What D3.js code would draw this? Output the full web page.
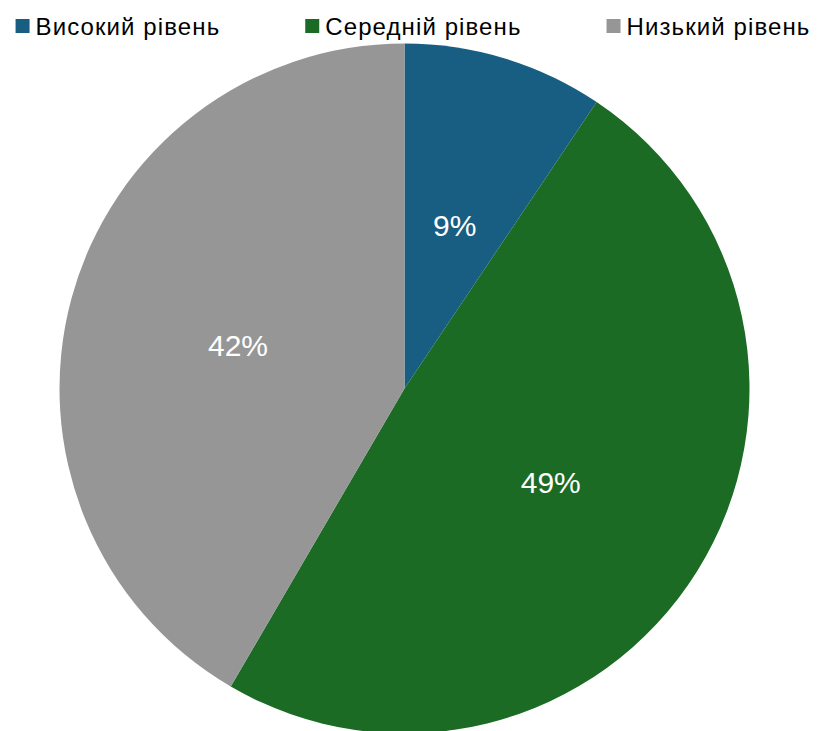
<!DOCTYPE html>
<html>
<head>
<meta charset="utf-8">
<script src="https://cdn.jsdelivr.net/npm/d3@7"></script>
<style>
  body { margin: 0; background: #fff; }
  svg { display: block; font-family: "Liberation Sans", Arial, sans-serif; }
</style>
</head>
<body>
<div class="pieChart"></div>
<script>
//Data
var categories = ["Високий рівень", "Середній рівень", "Низький рівень"];
var values = [9.4, 49.0, 41.6];
var labels = ["9%", "49%", "42%"];
var colors = ["#175e82", "#1b6b24", "#969696"];

//Width and height
var w = 817;
var h = 731;
var cx = 404.5, cy = 388.5, r = 345;

var svg = d3.select(".pieChart")
    .append("svg")
    .attr("width", w)
    .attr("height", h);

var data = categories.map((c, i) => ({ name: c, value: values[i], label: labels[i], color: colors[i] }));

var pie = d3.pie()
    .sort(null)
    .value((d) => d.value);

var arc = d3.arc()
    .innerRadius(0)
    .outerRadius(r);

var g = svg.append("g")
    .attr("transform", "translate(" + cx + "," + cy + ")");

var arcs = pie(data);

g.selectAll("path")
    .data(arcs)
    .enter()
    .append("path")
    .attr("d", arc)
    .attr("fill", (d) => d.data.color);

//Slice labels
g.selectAll("text")
    .data(arcs)
    .enter()
    .append("text")
    .attr("transform", (d) => "translate(" + arc.centroid(d) + ")")
    .attr("dy", "0.42em")
    .attr("text-anchor", "middle")
    .attr("fill", "#fff")
    .style("font-size", "30px")
    .text((d) => d.data.label);

//Legend
var legend = svg.append("g");
var x = 0;
data.forEach((d) => {
    var item = legend.append("g").attr("transform", "translate(" + x + ",0)");
    item.append("rect")
        .attr("x", 0)
        .attr("y", 19)
        .attr("width", 14)
        .attr("height", 14)
        .attr("fill", d.color);
    var t = item.append("text")
        .attr("x", 20)
        .attr("y", 35)
        .style("font-size", "24px")
        .style("letter-spacing", "1.1px")
        .attr("fill", "#000")
        .text(d.name);
    x += 20 + t.node().getComputedTextLength() + 85;
});
var total = x - 85;
legend.attr("transform", "translate(" + (413 - total / 2) + ",0)");
</script>
</body>
</html>
